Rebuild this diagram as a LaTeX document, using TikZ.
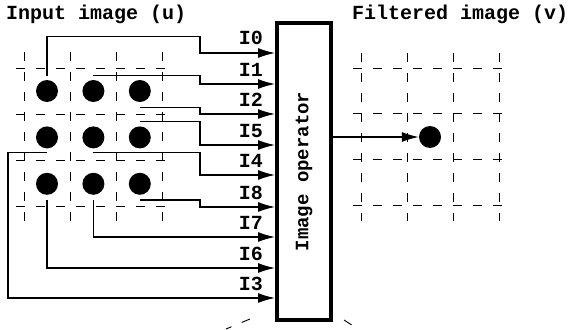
\documentclass[tikz,border=0pt]{standalone}
\usepackage{fontspec}
\setmonofont{Liberation Mono}
\usetikzlibrary{positioning,arrows.meta}

\begin{document}
\begin{tikzpicture}
    [ x = 1pt, y = -1pt
    , pixel/.style =
      { circle, fill, inner sep = 0pt, minimum size = 22pt }
    , wire/.style =
      { line width = 1.3pt, -{Latex[length=17pt,width=10pt]} }
    , gridline/.style =
      { dash pattern = on 9pt off 11pt, line width = .9pt }
    , opbox/.style =
      { draw, line width = 4pt, minimum width = 54pt, minimum height = 297pt, inner sep = 0pt }
    , caption/.style =
      { font = \fontsize{20}{24}\selectfont\ttfamily\bfseries, inner sep = 0pt }
    , inlabel/.style =
      { caption, anchor = base east }
    ]
    \useasboundingbox (0,0) rectangle (569,329);

    % input and output grids
    \foreach \x in {24,70,116,162}
      \draw [gridline] (\x,52) -- (\x,222);
    \foreach \y in {68,114,160,206}
      \draw [gridline] (16,\y) -- (167,\y);
    \foreach \x in {361,407,453,499}
      \draw [gridline] (\x,53) -- (\x,221);
    \foreach \y in {68,113,159,205}
      \draw [gridline] (353,\y) -- (503,\y);

    \node [caption, anchor = base west] (intitle) at (6,20) {Input image (u)};
    \node [caption, anchor = base west] (outtitle) at (352,20) {Filtered image (v)};

    \node [pixel] (u11) at (47,91) {};
    \node [pixel] (u12) [right=24pt of u11] {};
    \node [pixel] (u13) [right=24pt of u12] {};
    \node [pixel] (u21) [below=24pt of u11] {};
    \node [pixel] (u22) [right=24pt of u21] {};
    \node [pixel] (u23) [right=24pt of u22] {};
    \node [pixel] (u31) [below=24pt of u21] {};
    \node [pixel] (u32) [right=24pt of u31] {};
    \node [pixel] (u33) [right=24pt of u32] {};

    \node [opbox] (op) at (304,171.5) {};
    \node [caption, rotate = 90, font = \fontsize{19}{23}\selectfont\ttfamily\bfseries]
      (optext) at (op.center) {Image operator};

    \node [pixel] (v) at (430,137) {};

    % inputs of the operator
    \coordinate (jog) at (200,0);
    \coordinate (pI0) at (op.west |- 0,53);
    \coordinate (pI1) at (op.west |- 0,84);
    \coordinate (pI2) at (op.west |- 0,114);
    \coordinate (pI5) at (op.west |- 0,145);
    \coordinate (pI4) at (op.west |- 0,175);
    \coordinate (pI8) at (op.west |- 0,207);
    \coordinate (pI7) at (op.west |- 0,237);
    \coordinate (pI6) at (op.west |- 0,268);
    \coordinate (pI3) at (op.west |- 0,298);

    \node [inlabel] (lI0) at ([xshift=-12pt,yshift=8pt]pI0) {I0};
    \node [inlabel] (lI1) at ([xshift=-12pt,yshift=8pt]pI1) {I1};
    \node [inlabel] (lI2) at ([xshift=-12pt,yshift=8pt]pI2) {I2};
    \node [inlabel] (lI5) at ([xshift=-12pt,yshift=8pt]pI5) {I5};
    \node [inlabel] (lI4) at ([xshift=-12pt,yshift=8pt]pI4) {I4};
    \node [inlabel] (lI8) at ([xshift=-12pt,yshift=8pt]pI8) {I8};
    \node [inlabel] (lI7) at ([xshift=-12pt,yshift=8pt]pI7) {I7};
    \node [inlabel] (lI6) at ([xshift=-12pt,yshift=8pt]pI6) {I6};
    \node [inlabel] (lI3) at ([xshift=-12pt,yshift=8pt]pI3) {I3};

    \draw [wire] ([yshift=4pt]u11.north) -- ++(0,-39) -| (jog |- pI0) -- (pI0);
    \draw [wire] ([yshift=4pt]u12.north) -| (jog |- pI1) -- (pI1);
    \draw [wire] ([yshift=-5pt]u13.south) -| (jog |- pI2) -- (pI2);
    \draw [wire] ([yshift=5pt]u23.north) -| (jog |- pI5) -- (pI5);
    \draw [wire] ([yshift=-4pt]u22.south) -| (jog |- pI4) -- (pI4);
    \draw [wire] ([yshift=-5pt]u33.south) -| (jog |- pI8) -- (pI8);
    \draw [wire] ([yshift=-5pt]u32.south) |- (pI7);
    \draw [wire] ([yshift=-5pt]u31.south) |- (pI6);
    \draw [wire] ([yshift=-4pt]u21.south) -- ++(-39,0) |- (pI3);

    % output
    \draw [wire] (op.east |- v) -- (v);

    \draw [gridline] (250,319) -- (226,329);
    \draw [gridline] (344,320) -- (358,329);
\end{tikzpicture}
\end{document}
